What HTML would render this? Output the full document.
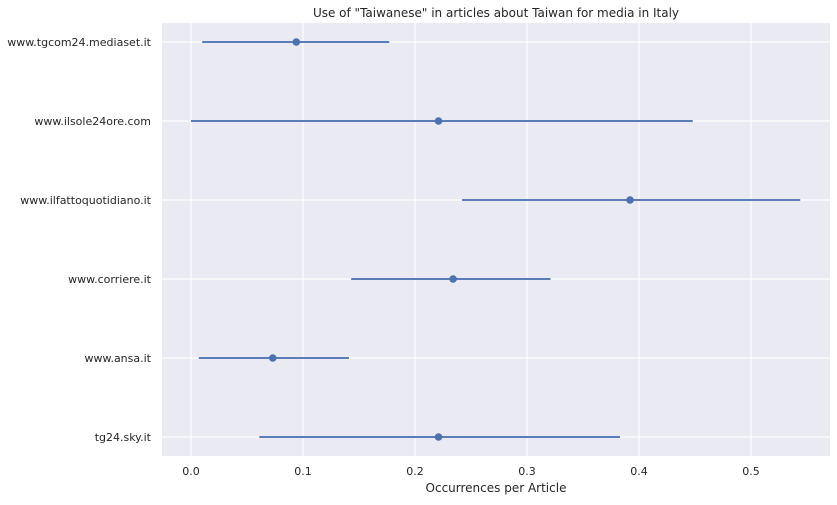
<!DOCTYPE html>
<html><head><meta charset="utf-8"><style>
body{margin:0;background:#fff;font-family:"DejaVu Sans","Liberation Sans",sans-serif}
</style></head><body>
<svg id="c" width="837" height="501" xmlns="http://www.w3.org/2000/svg" font-family="DejaVu Sans, sans-serif"></svg>
<script>
const categories=["www.tgcom24.mediaset.it","www.ilsole24ore.com","www.ilfattoquotidiano.it","www.corriere.it","www.ansa.it","tg24.sky.it"];
const means=[0.094,0.221,0.392,0.234,0.073,0.221];
const lows=[0.010,0.0,0.242,0.143,0.007,0.061];
const highs=[0.177,0.448,0.544,0.321,0.141,0.383];
const xTicks=[0,0.1,0.2,0.3,0.4,0.5];
const xTickLabels=["0.0","0.1","0.2","0.3","0.4","0.5"];
const NS="http://www.w3.org/2000/svg";
const svg=document.getElementById('c');
const L=162,R=830,T=23,B=456;
const x=v=>191+(v)*1120;
const y=i=>42+i*79;
function el(t,a,p){const e=document.createElementNS(NS,t);for(const k in a)e.setAttribute(k,a[k]);(p||svg).appendChild(e);return e;}
const bg=el('rect',{x:L,y:T,width:R-L,height:B-T,fill:'#eaeaf2'});


xTicks.forEach((v,i)=>{
 const g=el('line',{x1:x(v),x2:x(v),y1:T,y2:B,stroke:'#fff','stroke-width':1.2});
 
 
 const t=el('text',{x:x(v),y:475,'text-anchor':'middle','font-size':11,fill:'#262626'});
 t.textContent=xTickLabels[i];
 
 
});
categories.forEach((c,i)=>{
 const g=el('line',{x1:L,x2:R,y1:y(i),y2:y(i),stroke:'#fff','stroke-width':1.2});
 
 
 const t=el('text',{x:151,y:y(i)+4,'text-anchor':'end','font-size':11,fill:'#262626'});
 t.textContent=c;
 
 
});
categories.forEach((c,i)=>{
 const l=el('line',{x1:x(lows[i]),x2:x(highs[i]),y1:y(i),y2:y(i),stroke:'#5a7db8','stroke-width':2});
 
 
 const p=el('circle',{cx:x(means[i]),cy:y(i),r:3.8,fill:'#4c72b0'});
 
 
});
const tt=el('text',{x:(L+R)/2,y:17,'text-anchor':'middle','font-size':12,fill:'#262626'});
tt.textContent='Use of "Taiwanese" in articles about Taiwan for media in Italy';


const xt=el('text',{x:(L+R)/2,y:492,'text-anchor':'middle','font-size':12,fill:'#262626'});
xt.textContent='Occurrences per Article';


</script>
</body></html>
